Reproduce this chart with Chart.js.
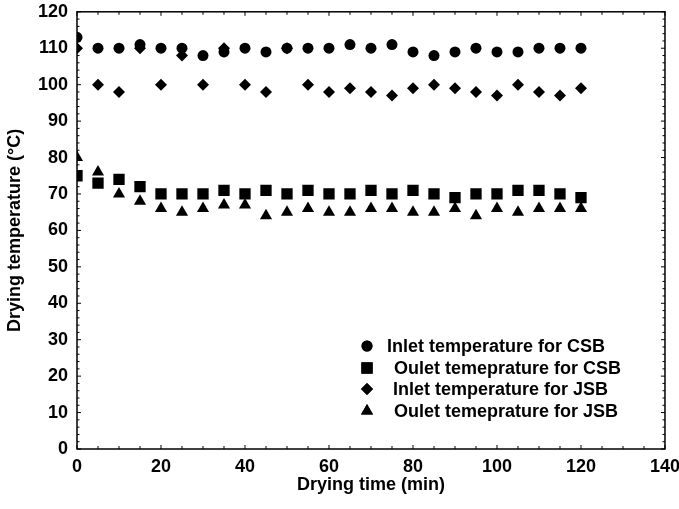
<!DOCTYPE html>
<html>
<head>
<meta charset="utf-8">
<script src="https://cdn.jsdelivr.net/npm/chart.js@4.4.1/dist/chart.umd.min.js"></script>
<style>
  html, body { margin: 0; padding: 0; background: #fff; }
  #wrap { width: 679px; height: 509px; }
</style>
</head>
<body>
<div id="wrap"><canvas id="myChart" width="679" height="509"></canvas></div>
<script>
// drying time (min)
const times = [0, 5, 10, 15, 20, 25, 30, 35, 40, 45, 50, 55, 60, 65, 70, 75, 80, 85, 90, 95, 100, 105, 110, 115, 120];

const inletCSB = [113, 110, 110, 111, 110, 110, 108, 109, 110, 109, 110, 110, 110, 111, 110, 111, 109, 108, 109, 110, 109, 109, 110, 110, 110];
const outletCSB = [75, 73, 74, 72, 70, 70, 70, 71, 70, 71, 70, 71, 70, 70, 71, 70, 71, 70, 69, 70, 70, 71, 71, 70, 69];
const inletJSB = [110, 100, 98, 110, 100, 108, 100, 110, 100, 98, 110, 100, 98, 99, 98, 97, 99, 100, 99, 98, 97, 100, 98, 97, 99];
const outletJSB = [80, 76, 70, 68, 66, 65, 66, 67, 67, 64, 65, 66, 65, 65, 66, 66, 65, 65, 66, 64, 66, 65, 66, 66, 66];

const seriesNames = ['Inlet temperature for CSB', 'Oulet temeprature for CSB', 'Inlet temperature for JSB', 'Oulet temeprature for JSB'];
const xTicks = [0, 20, 40, 60, 80, 100, 120, 140];
const yTicks = [0, 10, 20, 30, 40, 50, 60, 70, 80, 90, 100, 110, 120];

const FONT = 'Liberation Sans, Arial, sans-serif';

function pts(vals) {
    return vals.map((v, i) => ({ x: times[i], y: v }));
}

// frame with inward ticks on all four sides
const frameTicks = {
    id: 'frameTicks',
    afterDraw(chart) {
        const ctx = chart.ctx;
        const a = chart.chartArea;
        const xs = chart.scales.x, ys = chart.scales.y;
        ctx.save();
        ctx.strokeStyle = '#000';
        ctx.lineWidth = 1.5;
        ctx.strokeRect(a.left, a.top, a.right - a.left, a.bottom - a.top);
        ctx.lineWidth = 1;
        ctx.beginPath();
        for (let v = 0; v <= 140; v += 5) {
            const px = xs.getPixelForValue(v);
            const len = v % 20 === 0 ? 4 : 3;
            ctx.moveTo(px, a.bottom); ctx.lineTo(px, a.bottom - len);
            ctx.moveTo(px, a.top); ctx.lineTo(px, a.top + len);
        }
        for (let v = 0; v <= 120; v += 2) {
            const py = ys.getPixelForValue(v);
            const len = v % 10 === 0 ? 4 : 2.5;
            ctx.moveTo(a.left, py); ctx.lineTo(a.left + len, py);
            ctx.moveTo(a.right, py); ctx.lineTo(a.right - len, py);
        }
        ctx.stroke();
        ctx.restore();
    }
};

// legend drawn inside the plot
const innerLegend = {
    id: 'innerLegend',
    afterDraw(chart) {
        const ctx = chart.ctx;
        const rows = [346, 368, 389, 411];
        const textX = [387, 394, 393, 394];
        ctx.save();
        ctx.font = 'bold 18px ' + FONT;
        ctx.textBaseline = 'middle';
        chart.data.datasets.forEach((ds, i) => {
            ctx.fillStyle = '#000';
            Chart.helpers.drawPoint(ctx, {
                pointStyle: ds.pointStyle,
                radius: ds.pointRadius,
                borderWidth: 0
            }, 367, rows[i]);
            ctx.fillStyle = '#000';
            ctx.fill();
            ctx.fillText(ds.label, textX[i], rows[i] + 1);
        });
        ctx.restore();
    }
};

const mk = (label, vals, style, r) => ({
    label: label,
    data: pts(vals),
    pointStyle: style,
    pointRadius: r,
    pointHoverRadius: r,
    backgroundColor: '#000',
    borderColor: '#000',
    borderWidth: 0,
    showLine: false
});

const config = {
    type: 'scatter',
    data: {
        datasets: [
            mk(seriesNames[0], inletCSB, 'circle', 5.5),
            mk(seriesNames[1], outletCSB, 'rect', 8),
            mk(seriesNames[2], inletJSB, 'rectRot', 6),
            mk(seriesNames[3], outletJSB, 'triangle', 7)
        ]
    },
    options: {
        responsive: false,
        animation: false,
        layout: { padding: { top: 8, right: 11, left: 0, bottom: 0 } },
        plugins: {
            legend: { display: false },
            tooltip: { enabled: false }
        },
        scales: {
            x: {
                type: 'linear',
                min: 0,
                max: 140,
                afterBuildTicks: (s) => { s.ticks = xTicks.map(v => ({ value: v })); },
                afterFit: (s) => { s.height = 60; },
                grid: { display: false },
                border: { display: false },
                ticks: {
                    color: '#000',
                    padding: -1,
                    maxRotation: 0,
                    font: { family: FONT, size: 18, weight: 'bold' }
                },
                title: {
                    display: true,
                    text: 'Drying time (min)',
                    color: '#000',
                    padding: { top: 4, bottom: 13 },
                    font: { family: FONT, size: 18, weight: 'bold' }
                }
            },
            y: {
                type: 'linear',
                min: 0,
                max: 120,
                afterBuildTicks: (s) => { s.ticks = yTicks.map(v => ({ value: v })); },
                afterFit: (s) => { s.width = 77; },
                grid: { display: false },
                border: { display: false },
                ticks: {
                    color: '#000',
                    padding: 1,
                    font: { family: FONT, size: 18, weight: 'bold' }
                },
                title: {
                    display: true,
                    text: 'Drying temperature (°C)',
                    color: '#000',
                    padding: { bottom: 0, top: 4 },
                    font: { family: FONT, size: 18, weight: 'bold' }
                }
            }
        }
    },
    plugins: [frameTicks, innerLegend]
};

const myChart = new Chart(document.getElementById('myChart'), config);
</script>
</body>
</html>
